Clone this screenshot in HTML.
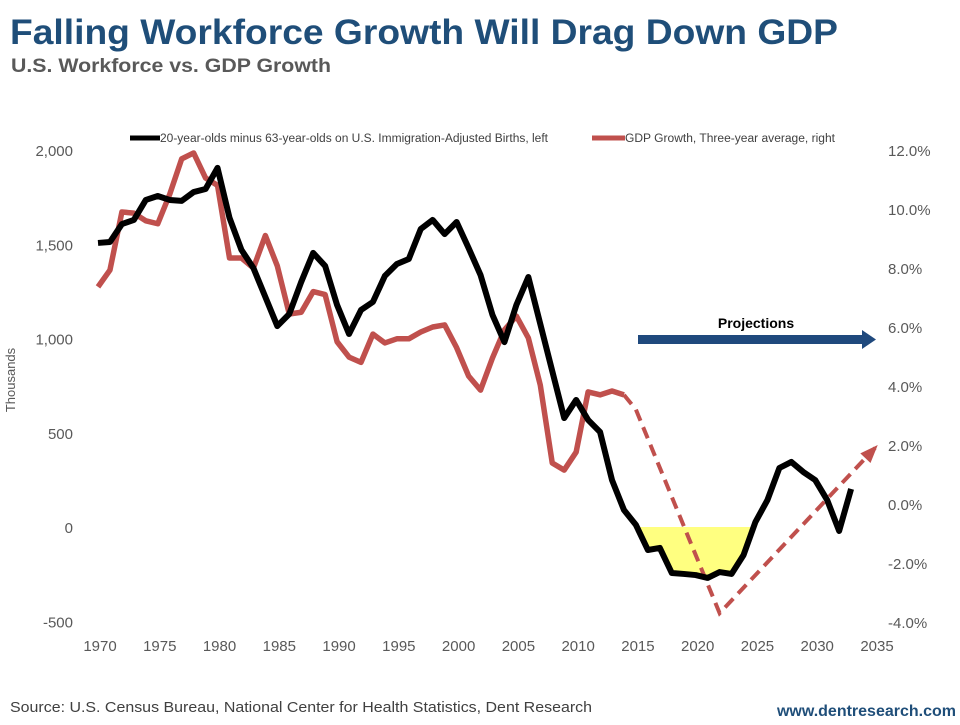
<!DOCTYPE html>
<html><head><meta charset="utf-8"><style>
body{margin:0;background:#fff;width:960px;height:720px;overflow:hidden;font-family:"Liberation Sans",sans-serif}
svg text{font-family:"Liberation Sans",sans-serif}
</style></head><body>
<svg width="960" height="720" xmlns="http://www.w3.org/2000/svg">
<text x="10" y="44" font-size="35" font-weight="bold" fill="#1f4e79" textLength="828" lengthAdjust="spacingAndGlyphs">Falling Workforce Growth Will Drag Down GDP</text>
<text x="11" y="72" font-size="19" font-weight="bold" fill="#595959" textLength="320" lengthAdjust="spacingAndGlyphs">U.S. Workforce vs. GDP Growth</text>
<g id="legend">
<line x1="130" y1="138" x2="160" y2="138" stroke="#000" stroke-width="5"/>
<text x="160" y="142" font-size="11.5" fill="#404040" textLength="388" lengthAdjust="spacingAndGlyphs">20-year-olds minus 63-year-olds on U.S. Immigration-Adjusted Births, left</text>
<line x1="592" y1="138" x2="625" y2="138" stroke="#c0504d" stroke-width="5"/>
<text x="625" y="142" font-size="11.5" fill="#404040" textLength="210" lengthAdjust="spacingAndGlyphs">GDP Growth, Three-year average, right</text>
</g>
<g id="axes"></g>
<g id="plot"></g>
<text transform="translate(15,380) rotate(-90)" text-anchor="middle" font-size="13" fill="#595959">Thousands</text>
<rect x="638" y="335" width="226" height="9" fill="#1f497d"/>
<polygon points="862,330 876,339.5 862,349" fill="#1f497d"/>
<text x="756" y="328" text-anchor="middle" font-size="14" font-weight="bold" fill="#000">Projections</text>
<text x="10" y="712" font-size="15" fill="#404040" textLength="582" lengthAdjust="spacingAndGlyphs">Source: U.S. Census Bureau, National Center for Health Statistics, Dent Research</text>
<text x="956" y="716" text-anchor="end" font-size="16" font-weight="bold" fill="#1f4e79">www.dentresearch.com</text>
</svg>
<script>
const years = [1970,1971,1972,1973,1974,1975,1976,1977,1978,1979,1980,1981,1982,1983,1984,1985,1986,1987,1988,1989,1990,1991,1992,1993,1994,1995,1996,1997,1998,1999,2000,2001,2002,2003,2004,2005,2006,2009,2010,2011,2012,2013,2014,2015,2016,2017,2018,2019,2020,2021,2022,2023,2024,2025,2026,2027,2028,2029,2030,2031,2032,2033];
const workforce = [1507,1512,1607,1629,1735,1756,1735,1730,1777,1793,1905,1640,1470,1374,1220,1066,1130,1300,1454,1385,1178,1024,1151,1194,1332,1395,1422,1581,1629,1554,1618,1480,1337,1125,981,1178,1326,578,674,568,504,249,90,11,-122,-111,-244,-249,-255,-270,-239,-249,-149,27,143,313,345,292,249,143,-21,202];
const gdpYears = [1970,1971,1972,1973,1974,1975,1976,1977,1978,1979,1980,1981,1982,1983,1984,1985,1986,1987,1988,1989,1990,1991,1992,1993,1994,1995,1996,1997,1998,1999,2000,2001,2002,2003,2004,2005,2006,2007,2008,2009,2010,2011,2012,2013,2014];
const gdp = [7.36,7.93,9.9,9.86,9.6,9.5,10.5,11.7,11.9,11.05,10.8,8.34,8.34,8.0,9.1,8.07,6.44,6.5,7.2,7.1,5.5,4.98,4.8,5.76,5.46,5.6,5.6,5.83,6.0,6.07,5.3,4.34,3.86,4.95,5.9,6.37,5.63,4.03,1.39,1.15,1.76,3.8,3.7,3.83,3.7];
const projYears = [2014,2015,2022,2035];
const gdpProj = [3.7,3.2,-3.7,1.9];
const xTicks = [1970,1975,1980,1985,1990,1995,2000,2005,2010,2015,2020,2025,2030,2035];
const leftTicks = [2000,1500,1000,500,0,-500];
const leftTickLabels = ["2,000","1,500","1,000","500","0","-500"];
const rightTicks = [12,10,8,6,4,2,0,-2,-4];

const X = y => 98 + (y-1970)*(777/65);
const YL = v => 527 - v*(377/2000);
const YR = v => 504 - v*29.5;
const NS = "http://www.w3.org/2000/svg";
function mk(tag, attrs, parent){const e=document.createElementNS(NS,tag);for(const k in attrs)e.setAttribute(k,attrs[k]);parent.appendChild(e);return e;}
const axes=document.getElementById('axes'), plot=document.getElementById('plot');

xTicks.forEach(t=>{const e=mk('text',{x:X(t)+2,y:651,'text-anchor':'middle','font-size':15,fill:'#595959'},axes);e.textContent=t;

});
leftTicks.forEach((t,i)=>{const e=mk('text',{x:73,y:YL(t)+6,'text-anchor':'end','font-size':15,fill:'#595959'},axes);e.textContent=leftTickLabels[i];

});
rightTicks.forEach(t=>{const e=mk('text',{x:888,y:YR(t)+6,'font-size':15,fill:'#595959'},axes);e.textContent=t.toFixed(1)+'%';

});

let fp=[[X(2015.1),YL(0)]];
years.forEach((y,i)=>{if(y>=2015&&y<=2024)fp.push([X(y),YL(Math.min(0,workforce[i]))]);});
fp.push([X(2024.7),YL(0)]);
const fill=mk('polygon',{points:fp.map(p=>p.join(',')).join(' '),fill:'#ffff80'},plot);



const rl=mk('polyline',{points:gdpYears.map((y,i)=>X(y)+','+YR(gdp[i])).join(' '),fill:'none',stroke:'#c0504d','stroke-width':5.5,'stroke-linejoin':'round'},plot);


const pl=mk('polyline',{points:projYears.map((y,i)=>X(y)+','+YR(gdpProj[i])).join(' '),fill:'none',stroke:'#c0504d','stroke-width':4,'stroke-dasharray':'12,7'},plot);


const n=projYears.length, x2=X(projYears[n-1]), y2=YR(gdpProj[n-1]), x1=X(projYears[n-2]), y1=YR(gdpProj[n-2]);
const a=Math.atan2(y2-y1,x2-x1), L=14, W=7;
const hp=[[x2+4*Math.cos(a),y2+4*Math.sin(a)],[x2-L*Math.cos(a)+W*Math.sin(a),y2-L*Math.sin(a)-W*Math.cos(a)],[x2-L*Math.cos(a)-W*Math.sin(a),y2-L*Math.sin(a)+W*Math.cos(a)]];
const ah=mk('polygon',{points:hp.map(p=>p.join(',')).join(' '),fill:'#c0504d'},plot);



const bl=mk('polyline',{points:years.map((y,i)=>X(y)+','+YL(workforce[i])).join(' '),fill:'none',stroke:'#000','stroke-width':6,'stroke-linejoin':'round'},plot);


</script>
</body></html>
